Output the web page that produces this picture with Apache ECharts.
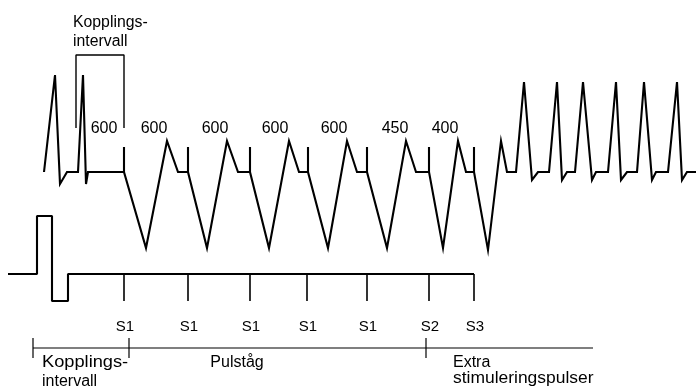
<!DOCTYPE html>
<html>
<head>
<meta charset="utf-8">
<script src="https://cdn.jsdelivr.net/npm/echarts@6/dist/echarts.min.js"></script>
<style>
html,body{margin:0;padding:0;background:#fff;}
#c{width:696px;height:388px;}
</style>
</head>
<body>
<div id="c"></div>
<script>
// ---- data (schematic time units on x, amplitude units on y; y grows downward) ----
// Surface ECG trace: [time, level]
const ecgTrace = [
  [44,172],[55,75],[60,184],[67,172],[78,172],[83,75],[86,184],[88,172],
  [124,172],[124,147],[124,172],[146,248],[167,141],[178,172],
  [188,172],[188,147],[188,172],[207,248],[227,141],[238,172],
  [250,172],[250,147],[250,172],[269,248],[289,141],[299,172],
  [308,172],[308,147],[308,172],[328,248],[347,141],[357,172],
  [367,172],[367,147],[367,172],[387,248],[406,141],[416,172],
  [429,172],[429,147],[429,172],[443,248],[458,141],[466,172],
  [474,172],[474,147],[474,172],[488,250],[501,141],[507,172],
  [516,172],[524,82],[532,180],[538,172],
  [549,172],[557,82],[562,180],[567,172],
  [575,172],[583,82],[592,180],[596,172],
  [608,172],[616,82],[621,180],[627,172],
  [637,172],[644,82],[652,180],[656,172],
  [668,172],[677,82],[682,180],[687,172],[696,172]
];
// Stimulator trace
const stimTrace = [[8,274],[37,274],[37,216],[52,216],[52,301],[68,301],[68,274],[474,274]];
// Stimuli
const stimTimes = [124,188,250,307,367,429,474];
const stimNames = ['S1','S1','S1','S1','S1','S2','S3'];
// Interval labels (ms)
const intervalValues = ['600','600','600','600','600','450','400'];
const intervalTimes = [104,154,215,275,334,395,445];
// Coupling interval bracket
const bracketTimes = [76,124];
// Phase axis
const phaseBounds = [33,129,426,593];
const phaseTicks = [33,129,426];
const phaseNames = ['Kopplings-\nintervall','Pulståg','Extra\nstimuleringspulser'];

const FONT = '"Liberation Sans", Arial, Helvetica, sans-serif';
const chart = echarts.init(document.getElementById('c'), null, {renderer:'canvas'});

const texts = [];
intervalValues.forEach((v,i)=>texts.push({t:intervalTimes[i], y:129, text:v, align:'center', size:16}));
stimNames.forEach((v,i)=>texts.push({t:stimTimes[i]+1, y:327, text:v, align:'center', size:15}));
const topLbl = phaseNames[0].split('\n');
texts.push({t:73, y:23, text:topLbl[0], align:'left', size:15.8});
texts.push({t:73, y:42, text:topLbl[1], align:'left', size:15.8});
texts.push({t:42, y:363, text:topLbl[0], align:'left', size:16, sx:1.14});
texts.push({t:42, y:382, text:topLbl[1], align:'left', size:16});
texts.push({t:237, y:363, text:phaseNames[1], align:'center', size:16});
const extraLbl = phaseNames[2].split('\n');
texts.push({t:453, y:363, text:extraLbl[0], align:'left', size:16});
texts.push({t:453, y:379, text:extraLbl[1], align:'left', size:16, sx:1.09});

// vertical segments: [time, y1, y2, width]
const vsegs = [];
stimTimes.forEach(t=>vsegs.push([t,274,301,1.6]));
phaseTicks.forEach(t=>vsegs.push([t,338,358,1.2]));

const option = {
  animation:false,
  backgroundColor:'#fff',
  grid:{left:0,right:0,top:0,bottom:0},
  xAxis:{type:'value',min:0,max:696,show:false},
  yAxis:{type:'value',min:0,max:388,inverse:true,show:false},
  series:[
    {type:'line',data:ecgTrace,symbol:'none',lineStyle:{color:'#000',width:2.1,join:'miter'},z:3},
    {type:'line',data:stimTrace,symbol:'none',lineStyle:{color:'#000',width:2.1},z:3},
    {type:'line',data:[[bracketTimes[0],128],[bracketTimes[0],55],[bracketTimes[1],55],[bracketTimes[1],128]],
      symbol:'none',lineStyle:{color:'#000',width:1.4},z:3},
    {type:'line',data:[[phaseBounds[0],348],[phaseBounds[3],348]],symbol:'none',lineStyle:{color:'#000',width:1.2},z:3},
    {type:'custom',data:vsegs,z:3,
      renderItem:(params,api)=>{
        const a=api.coord([api.value(0),api.value(1)]);
        const b=api.coord([api.value(0),api.value(2)]);
        return {type:'line',shape:{x1:a[0],y1:a[1],x2:b[0],y2:b[1]},style:{stroke:'#000',lineWidth:api.value(3)}};
      }},
    {type:'custom',data:texts.map(d=>[d.t,d.y]),z:4,
      renderItem:(params,api)=>{
        const d=texts[params.dataIndex];
        const p=api.coord([d.t,d.y]);
        return {type:'text',x:p[0],y:p[1],scaleX:d.sx||1,scaleY:1,
          style:{text:d.text,fill:'#000',font:d.size+'px '+FONT,align:d.align,verticalAlign:'middle'}};
      }}
  ]
};
chart.setOption(option);
</script>
</body>
</html>
